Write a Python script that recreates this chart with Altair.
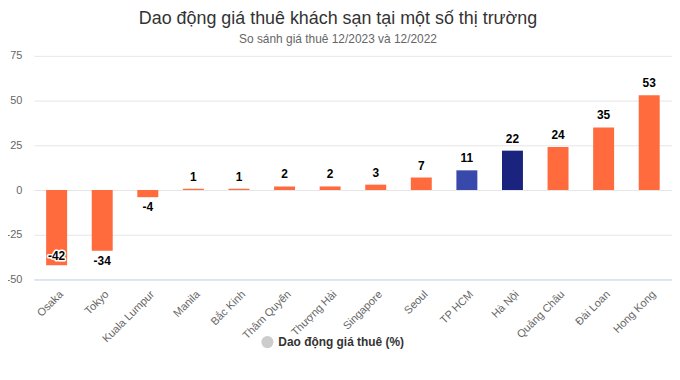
import altair as alt
import pandas as pd

cities = ["Osaka", "Tokyo", "Kuala Lumpur", "Manila", "Bắc Kinh", "Thâm Quyến",
          "Thượng Hải", "Singapore", "Seoul", "TP HCM", "Hà Nội", "Quảng Châu",
          "Đài Loan", "Hong Kong"]
values = [-42, -34, -4, 0.7, 0.7, 2, 2, 3, 7, 11, 22, 24, 35, 53]
colors = ["#ff6b3d"] * 9 + ["#3949ab", "#1a237e"] + ["#ff6b3d"] * 3
series_name = "Dao động giá thuê (%)"

df = pd.DataFrame({"city": cities, "v": values, "col": colors})
df["lab"] = [str(int(round(v))) for v in values]
df["series"] = series_name

FONT = "Liberation Sans"

x = alt.X("city:N", sort=cities, title=None,
          scale=alt.Scale(paddingInner=0.54, paddingOuter=0.27),
          axis=alt.Axis(labelAngle=-45, labelAlign="right", labelBaseline="middle",
                        labelFontSize=11, labelColor="#666666", labelFont=FONT,
                        ticks=False, domain=True, domainColor="#ccd6eb",
                        labelPadding=13, labelOffset=5))
y = alt.Y("v:Q", title=None,
          scale=alt.Scale(domain=[-50, 75], nice=False, zero=False),
          axis=alt.Axis(values=[-50, -25, 0, 25, 50, 75], ticks=False, domain=False,
                        labelFontSize=11, labelColor="#666666", labelFont=FONT,
                        labelExpr="replace(datum.label, '\u2212', '-')",
                        gridColor="#e6e6e6", labelPadding=12))

base = alt.Chart(df)

bars = base.mark_bar().encode(
    x=x, y=y, y2=alt.datum(0),
    color=alt.Color("col:N", scale=None),
)

legend_layer = base.mark_point(filled=True, opacity=0).encode(
    x=x, y=y,
    fill=alt.Fill("series:N", scale=alt.Scale(range=["#cccccc"]),
                  legend=alt.Legend(title=None, orient="none", legendX=228, legendY=281,
                                    symbolType="circle", symbolSize=150, symbolOpacity=1,
                                    labelFontSize=12, labelFontWeight="bold",
                                    labelColor="#333333", labelFont=FONT)),
)

pos_labels = base.transform_filter("datum.v >= 0").mark_text(
    baseline="bottom", dy=-5, fontSize=12, fontWeight="bold", font=FONT, color="#000000"
).encode(x=x, y=y, text="lab:N")

neg_labels = base.transform_filter("datum.v < 0 && datum.v > -40").mark_text(
    baseline="top", dy=5, fontSize=12, fontWeight="bold", font=FONT, color="#000000"
).encode(x=x, y=y, text="lab:N")

inner_outline = base.transform_filter("datum.v <= -40").mark_text(
    baseline="bottom", dy=-2, fontSize=12, fontWeight="bold", font=FONT,
    color="#ffffff", stroke="#ffffff", strokeWidth=3, strokeJoin="round"
).encode(x=x, y=y, text="lab:N")

inner_labels = base.transform_filter("datum.v <= -40").mark_text(
    baseline="bottom", dy=-2, fontSize=12, fontWeight="bold", font=FONT, color="#000000"
).encode(x=x, y=y, text="lab:N")

chart = alt.layer(bars, legend_layer, pos_labels, neg_labels, inner_outline, inner_labels).properties(
    width=642, height=225,
    padding={"left": 26, "top": 47, "right": 0, "bottom": 100},
    autosize=alt.AutoSizeParams(type="none"),
    title=alt.TitleParams(
        text="Dao động giá thuê khách sạn tại một số thị trường",
        subtitle="So sánh giá thuê 12/2023 và 12/2022",
        font=FONT, fontSize=18, fontWeight="normal", color="#333333",
        subtitleFont=FONT, subtitleFontSize=12, subtitleColor="#666666",
        subtitlePadding=6, anchor="middle", dx=-15, offset=5,
    ),
).configure_view(stroke=None).configure_axis(gridWidth=1)

chart.save("out.html", embed_options={"renderer": "svg", "actions": False})
